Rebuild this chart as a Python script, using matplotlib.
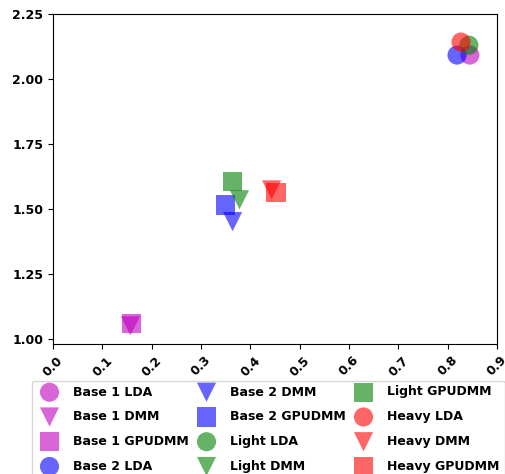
import matplotlib
matplotlib.use("Agg")
import matplotlib.pyplot as plt

labels = ["Base 1 LDA", "Base 1 DMM", "Base 1 GPUDMM",
          "Base 2 LDA", "Base 2 DMM", "Base 2 GPUDMM",
          "Light LDA", "Light DMM", "Light GPUDMM",
          "Heavy LDA", "Heavy DMM", "Heavy GPUDMM"]
x_vals = [0.845, 0.157, 0.159,
          0.819, 0.364, 0.349,
          0.843, 0.378, 0.363,
          0.827, 0.443, 0.452]
y_vals = [2.092, 1.050, 1.058,
          2.092, 1.451, 1.515,
          2.130, 1.535, 1.605,
          2.142, 1.573, 1.563]
colors = ["m", "m", "m", "b", "b", "b", "g", "g", "g", "r", "r", "r"]
markers = ["o", "v", "s"] * 4
xticks = [0.0, 0.1, 0.2, 0.3, 0.4, 0.5, 0.6, 0.7, 0.8, 0.9]
yticks = [1.00, 1.25, 1.50, 1.75, 2.00, 2.25]

fig = plt.figure(figsize=(5.06, 4.74), dpi=100)
ax = fig.add_axes([53/506, 130/474, 444/506, 330/474])

for lab, xv, yv, c, m in zip(labels, x_vals, y_vals, colors, markers):
    ax.scatter(xv, yv, s=190, c=c, marker=m, alpha=0.6, label=lab,
               edgecolors="none")

ax.set_xlim(0.0, 0.9)
ax.set_ylim(0.98, 2.25)
ax.set_xticks(xticks)
ax.set_yticks(yticks)
ax.set_xticklabels([f"{t:.1f}" for t in xticks], rotation=45,
                   fontweight="bold", fontsize=9)
ax.set_yticklabels([f"{t:.2f}" for t in yticks], fontweight="bold", fontsize=9)

leg = ax.legend(loc="upper left", bbox_to_anchor=(32/506, 93.5/474),
                bbox_transform=fig.transFigure, ncol=3, borderaxespad=0,
                prop={"weight": "bold", "size": 9}, labelspacing=0.94,
                handletextpad=0.9, columnspacing=0.4)

fig.savefig("out.png", dpi=100)
